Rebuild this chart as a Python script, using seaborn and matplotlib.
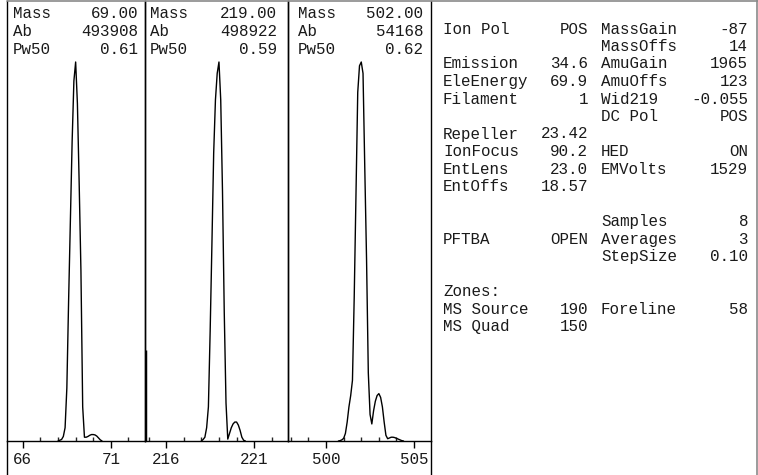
import numpy as np
import pandas as pd
import seaborn as sns

from matplotlib import pyplot as plt
from matplotlib.lines import Line2D
from matplotlib.ticker import FixedLocator, MultipleLocator

# tune peaks
masses = [69.00, 219.00, 502.00]
abundances = [493908, 498922, 54168]
pw50 = [0.61, 0.59, 0.62]
tick_marks = [[66, 71], [216, 221], [500, 505]]

# profile, relative to the target mass (0.10 amu steps)
p69_offsets = [-1.0, -0.9, -0.8, -0.7, -0.6, -0.5, -0.4, -0.3, -0.2, -0.1, 0.0,
               0.1, 0.2, 0.3, 0.4, 0.5, 0.6, 0.7, 0.8, 0.9, 1.0, 1.1, 1.2, 1.3, 1.4, 1.5]
p69_levels = [0, 0.002, 0.004, 0.012, 0.035, 0.14, 0.37, 0.58, 0.79, 0.95, 1.0,
              0.89, 0.68, 0.45, 0.09, 0.01, 0.01, 0.012, 0.015, 0.017, 0.017, 0.016,
              0.013, 0.008, 0.003, 0]

p219_offsets = p69_offsets
p219_levels = [0, 0.004, 0.01, 0.035, 0.09, 0.29, 0.52, 0.76, 0.90, 0.97, 1.0,
               0.90, 0.66, 0.34, 0.10, 0.005, 0.02, 0.035, 0.045, 0.05, 0.05, 0.042,
               0.028, 0.01, 0.002, 0]

p502_offsets = [-1.3, -1.2, -1.1, -1.0, -0.9, -0.8, -0.7, -0.6, -0.5, -0.4, -0.3,
                -0.2, -0.1, 0.0, 0.1, 0.2, 0.3, 0.4, 0.5, 0.6, 0.7, 0.8, 0.9, 1.0,
                1.1, 1.2, 1.3, 1.4, 1.5, 1.6, 1.7, 1.8, 1.9, 2.0, 2.1, 2.2, 2.3, 2.4]
p502_levels = [0, 0.001, 0.003, 0.007, 0.02, 0.05, 0.09, 0.12, 0.16, 0.38, 0.65,
               0.92, 0.99, 1.0, 0.97, 0.72, 0.48, 0.18, 0.07, 0.045, 0.08, 0.105,
               0.12, 0.125, 0.115, 0.09, 0.05, 0.015, 0.006, 0.008, 0.01, 0.01,
               0.009, 0.007, 0.005, 0.003, 0.001, 0]

profiles = [(p69_offsets, p69_levels), (p219_offsets, p219_levels),
            (p502_offsets, p502_levels)]

# short edge trace seen at the left of the 219 scan
edge_level_219 = 0.24

# instrument parameters table
left_labels = ["Ion Pol", "", "Emission", "EleEnergy", "Filament", "", "Repeller",
               "IonFocus", "EntLens", "EntOffs", "", "", "PFTBA", "", "", "Zones:",
               "MS Source", "MS Quad"]
left_values = ["POS", "", "34.6", "69.9", "1", "", "23.42", "90.2", "23.0", "18.57",
               "", "", "OPEN", "", "", "", "190", "150"]
right_labels = ["MassGain", "MassOffs", "AmuGain", "AmuOffs", "Wid219", "DC Pol", "",
                "HED", "EMVolts", "", "", "Samples", "Averages", "StepSize", "", "",
                "Foreline", ""]
right_values = ["-87", "14", "1965", "123", "-0.055", "POS", "", "ON", "1529", "",
                "", "8", "3", "0.10", "", "", "58", ""]

W, H = 758, 475
sns.set_style("white")
plt.rcParams['font.family'] = ['Liberation Mono', 'DejaVu Sans Mono']
fs = 11.4
ink = "#1a1a1a"

fig = plt.figure(figsize=(W / 100, H / 100), dpi=100)


def fx(px):
    return px / W


def fy(py):
    return 1 - py / H


edges = [7, 145, 288, 431]
x_spans = [(-3.9, 3.94), (-4.2, 3.92), (-4.16, 3.96)]
label_pad = [6, 5, 10]
value_pad = [7, 11, 8]
base_y, top_y = 441, 1
peak_px = 379

for i in range(3):
    x0, x1 = edges[i], edges[i + 1]
    ax = fig.add_axes([fx(x0), fy(base_y), fx(x1 - x0), (base_y - top_y) / H])
    offs, levels = profiles[i]
    df = pd.DataFrame({"mass": masses[i] + np.array(offs),
                       "abundance": np.array(levels) * abundances[i]})
    sns.lineplot(data=df, x="mass", y="abundance", ax=ax, color="black", lw=1)
    lo, hi = x_spans[i]
    ax.set_xlim(masses[i] + lo, masses[i] + hi)
    ax.set_ylim(0, abundances[i] * (base_y - top_y) / peak_px)
    if i == 1:
        ax.vlines(masses[i] + lo, 0, edge_level_219 * abundances[i],
                  color="black", lw=2.5)
    ax.xaxis.set_major_locator(FixedLocator(tick_marks[i]))
    ax.xaxis.set_minor_locator(MultipleLocator(1))
    ax.tick_params(axis="x", which="major", direction="out", length=5, width=1,
                   labelsize=fs, pad=3, colors="black", labelcolor=ink, bottom=True)
    ax.tick_params(axis="x", which="minor", direction="in", length=3, width=1,
                   bottom=True)
    ax.set_yticks([])
    ax.set_xlabel("")
    ax.set_ylabel("")
    for s in ["left", "right", "bottom"]:
        ax.spines[s].set_color("black")
        ax.spines[s].set_linewidth(1)
    ax.spines["top"].set_visible(False)
    ax.patch.set_alpha(0)

    rows = [("Mass", "{:.2f}".format(masses[i])),
            ("Ab", "{}".format(abundances[i])),
            ("Pw50", "{:.2f}".format(pw50[i]))]
    for r, (lab, val) in enumerate(rows):
        yy = 14 + r * 17.5
        fig.text(fx(x0 + label_pad[i]), fy(yy), lab, fontsize=fs, va="center",
                 ha="left", color=ink)
        fig.text(fx(x1 - value_pad[i]), fy(yy), val, fontsize=fs, va="center",
                 ha="right", color=ink)

# frame lines
frame_gray = "#8a8a8a"
fig.add_artist(Line2D([fx(7), fx(757.5)], [fy(0.7), fy(0.7)], color=frame_gray, lw=1.2))
fig.add_artist(Line2D([fx(757.3), fx(757.3)], [fy(0), fy(H)], color=frame_gray, lw=1.2))
fig.add_artist(Line2D([fx(7), fx(7)], [fy(base_y), fy(H)], color="black", lw=1))
fig.add_artist(Line2D([fx(431), fx(431)], [fy(base_y), fy(H)], color="black", lw=1))

# parameter table
for r in range(len(left_labels)):
    yy = 29 + r * 17.5
    if left_labels[r]:
        fig.text(fx(443), fy(yy), left_labels[r], fontsize=fs, va="center",
                 ha="left", color=ink)
    if left_values[r]:
        fig.text(fx(588), fy(yy), left_values[r], fontsize=fs, va="center",
                 ha="right", color=ink)
    if right_labels[r]:
        fig.text(fx(601), fy(yy), right_labels[r], fontsize=fs, va="center",
                 ha="left", color=ink)
    if right_values[r]:
        fig.text(fx(748), fy(yy), right_values[r], fontsize=fs, va="center",
                 ha="right", color=ink)

fig.savefig("out.png", dpi=100)
